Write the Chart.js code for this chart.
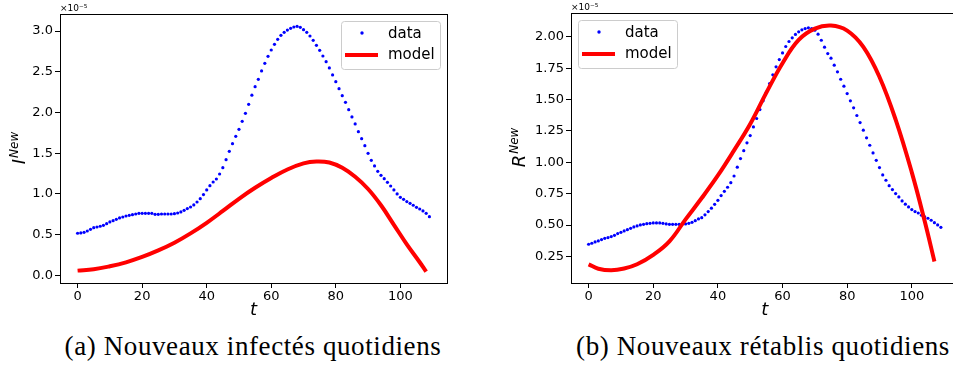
<!DOCTYPE html>
<html>
<head>
<meta charset="utf-8">
<script src="https://cdn.jsdelivr.net/npm/chart.js@4.4.1/dist/chart.umd.min.js"></script>
<style>
  html, body { margin: 0; padding: 0; background: #fff; }
  body { width: 953px; height: 365px; overflow: hidden; position: relative; }
  .panel { position: absolute; top: 0; }
  .caption {
    position: absolute; top: 331px; width: 420px;
    font-family: "Liberation Serif", serif; font-size: 27px; letter-spacing: 0.6px;
    color: #000; text-align: center; white-space: nowrap;
  }
</style>
</head>
<body>
<div class="panel" style="left:0"><canvas id="chartA" width="480" height="322"></canvas></div>
<div class="panel" style="left:480px"><canvas id="chartB" width="500" height="322"></canvas></div>
<div class="caption" style="left:43px">(a) Nouveaux infectés quotidiens</div>
<div class="caption" style="left:553px">(b) Nouveaux rétablis quotidiens</div>

<script>
// all values in units of 1e-5
const days = Array.from({ length: 110 }, (_, i) => i);

const dataI = [
  0.516, 0.520, 0.528, 0.544, 0.565, 0.585, 0.593, 0.602, 0.614, 0.634,
  0.655, 0.671, 0.687, 0.704, 0.716, 0.728, 0.737, 0.745, 0.753, 0.761,
  0.761, 0.761, 0.761, 0.761, 0.749, 0.749, 0.753, 0.753, 0.753, 0.753,
  0.757, 0.765, 0.778, 0.798, 0.819, 0.839, 0.864, 0.900, 0.941, 0.991,
  1.048, 1.101, 1.146, 1.183, 1.244, 1.322, 1.420, 1.523, 1.617, 1.707,
  1.793, 1.891, 1.990, 2.100, 2.213, 2.317, 2.407, 2.510, 2.604, 2.690,
  2.768, 2.837, 2.899, 2.948, 2.985, 3.013, 3.034, 3.050, 3.058, 3.046,
  3.018, 2.985, 2.940, 2.886, 2.825, 2.764, 2.694, 2.624, 2.547, 2.461,
  2.379, 2.293, 2.207, 2.125, 2.035, 1.945, 1.859, 1.764, 1.678, 1.592,
  1.498, 1.412, 1.343, 1.277, 1.228, 1.187, 1.142, 1.097, 1.048, 0.999,
  0.958, 0.933, 0.905, 0.884, 0.860, 0.835, 0.814, 0.790, 0.761, 0.720
];
const modelIt = [0, 5, 10, 15, 20, 25, 30, 35, 40, 45, 50, 55, 60, 65, 70, 74, 78, 82, 86, 90, 94, 98, 102, 106, 108];
const modelI = [0.057, 0.073, 0.110, 0.159, 0.225, 0.305, 0.400, 0.515, 0.645, 0.790, 0.940, 1.075, 1.195,
  1.300, 1.375, 1.398, 1.385, 1.320, 1.210, 1.060, 0.860, 0.620, 0.380, 0.160, 0.045];

const dataR = [
  0.347, 0.355, 0.365, 0.373, 0.384, 0.394, 0.400, 0.408, 0.418, 0.432,
  0.442, 0.453, 0.463, 0.474, 0.485, 0.493, 0.501, 0.506, 0.511, 0.514,
  0.517, 0.517, 0.517, 0.514, 0.509, 0.506, 0.506, 0.506, 0.506, 0.509,
  0.509, 0.514, 0.522, 0.535, 0.549, 0.559, 0.581, 0.607, 0.634, 0.665,
  0.697, 0.735, 0.769, 0.801, 0.838, 0.891, 0.961, 1.030, 1.093, 1.155,
  1.213, 1.282, 1.349, 1.420, 1.490, 1.559, 1.628, 1.697, 1.761, 1.819,
  1.872, 1.923, 1.963, 1.992, 2.019, 2.040, 2.056, 2.066, 2.072, 2.066,
  2.053, 2.021, 1.973, 1.918, 1.867, 1.830, 1.774, 1.721, 1.662, 1.607,
  1.548, 1.490, 1.434, 1.373, 1.317, 1.256, 1.195, 1.136, 1.075, 1.016,
  0.958, 0.899, 0.857, 0.814, 0.783, 0.751, 0.724, 0.692, 0.666, 0.644,
  0.623, 0.607, 0.596, 0.578, 0.565, 0.554, 0.538, 0.519, 0.501, 0.482
];
const modelRt = [0, 3, 7, 11, 15, 20, 25, 30, 35, 40, 45, 50, 55, 60, 65, 70, 75, 80, 85, 90, 95, 100, 104, 107];
const modelR = [0.187, 0.152, 0.139, 0.153, 0.187, 0.262, 0.370, 0.545, 0.715, 0.895, 1.095, 1.305, 1.555,
  1.790, 1.975, 2.065, 2.090, 2.050, 1.920, 1.680, 1.340, 0.920, 0.530, 0.210];

const xTicks = [0, 20, 40, 60, 80, 100];
const yTicksI = [0, 0.5, 1.0, 1.5, 2.0, 2.5, 3.0];
const yTicksR = [0.25, 0.5, 0.75, 1.0, 1.25, 1.5, 1.75, 2.0];

const FONT = '"DejaVu Sans", sans-serif';

// frame, offset text, y label with superscript, and the legend box
const decorations = {
  id: 'decorations',
  afterDraw(chart, args, opts) {
    const { ctx, chartArea: a } = chart;
    ctx.save();
    ctx.strokeStyle = '#000';
    ctx.lineWidth = 1;
    ctx.strokeRect(Math.round(a.left) + 0.5, Math.round(a.top) + 0.5,
      Math.round(a.right - a.left), Math.round(a.bottom - a.top));

    ctx.fillStyle = '#000';
    ctx.font = '9px ' + FONT;
    ctx.textBaseline = 'alphabetic';
    ctx.fillText('×10⁻⁵', a.left, a.top - 3);

    // legend
    const lw = 99, lh = 48;
    const lx = opts.legendLeft ? a.left + 7 : a.right - 7 - lw;
    const ly = a.top + 7;
    ctx.beginPath();
    ctx.roundRect(lx + 0.5, ly + 0.5, lw, lh, 3);
    ctx.fillStyle = 'rgba(255,255,255,0.8)';
    ctx.fill();
    ctx.strokeStyle = '#cccccc';
    ctx.stroke();
    ctx.fillStyle = '#0000ff';
    ctx.beginPath();
    ctx.arc(lx + 21, ly + 12, 1.7, 0, Math.PI * 2);
    ctx.fill();
    ctx.strokeStyle = '#ff0000';
    ctx.lineWidth = 4;
    ctx.beginPath();
    ctx.moveTo(lx + 4, ly + 34);
    ctx.lineTo(lx + 37, ly + 34);
    ctx.stroke();
    ctx.fillStyle = '#000';
    ctx.font = '15px ' + FONT;
    ctx.textBaseline = 'middle';
    ctx.fillText('data', lx + 47, ly + 13);
    ctx.fillText('model', lx + 47, ly + 34);

    // y axis label, rotated
    ctx.textBaseline = 'alphabetic';
    ctx.translate(opts.labelX, (a.top + a.bottom) / 2);
    ctx.rotate(-Math.PI / 2);
    ctx.font = 'italic 18px ' + FONT;
    const w1 = ctx.measureText(opts.letter).width;
    ctx.font = 'italic 12px ' + FONT;
    const w2 = ctx.measureText('New').width;
    const x0 = -(w1 + w2) / 2;
    ctx.font = 'italic 18px ' + FONT;
    ctx.fillText(opts.letter, x0, 0);
    ctx.font = 'italic 12px ' + FONT;
    ctx.fillText('New', x0 + w1 + 1, -7);
    ctx.restore();
  }
};

function makeChart(id, cfg) {
  const tickFont = { family: FONT, size: 13 };
  return new Chart(document.getElementById(id), {
    data: {
      datasets: [
        {
          type: 'line',
          label: 'model',
          data: cfg.modelT.map((t, i) => ({ x: t, y: cfg.model[i] })),
          borderColor: '#ff0000',
          borderWidth: 4,
          pointRadius: 0,
          tension: 0.4,
          order: 0
        },
        {
          type: 'scatter',
          label: 'data',
          data: days.map((t, i) => ({ x: t, y: cfg.data[i] })),
          backgroundColor: '#0000ff',
          pointRadius: 1.6,
          pointBorderWidth: 0,
          order: 1
        }
      ]
    },
    options: {
      responsive: false,
      animation: false,
      devicePixelRatio: 1,
      layout: { padding: cfg.padding },
      plugins: {
        legend: { display: false },
        tooltip: { enabled: false },
        decorations: { legendLeft: cfg.legendLeft, labelX: cfg.labelX, letter: cfg.letter }
      },
      scales: {
        x: {
          type: 'linear',
          min: -5.45,
          max: 114.45,
          afterBuildTicks: s => { s.ticks = xTicks.map(v => ({ value: v })); },
          afterFit: s => { s.height = 39; },
          grid: { drawOnChartArea: false, drawTicks: true, tickLength: 5, color: '#000' },
          border: { display: false },
          ticks: { color: '#000', font: tickFont, padding: 1, maxRotation: 0, autoSkip: false },
          title: {
            display: true, text: 't', color: '#000', padding: { top: 0, bottom: 1 },
            font: { family: FONT, size: 18, style: 'italic' }
          }
        },
        y: {
          type: 'linear',
          min: cfg.yMin,
          max: cfg.yMax,
          afterBuildTicks: s => { s.ticks = cfg.yTicks.map(v => ({ value: v })); },
          afterFit: s => { s.width = cfg.yWidth; },
          grid: { drawOnChartArea: false, drawTicks: true, tickLength: 5, color: '#000' },
          border: { display: false },
          ticks: {
            color: '#000', font: tickFont, padding: 2, autoSkip: false,
            callback: v => v.toFixed(cfg.decimals)
          }
        }
      }
    },
    plugins: [decorations]
  });
}

makeChart('chartA', {
  data: dataI, modelT: modelIt, model: modelI,
  yMin: -0.095, yMax: 3.21, yTicks: yTicksI, decimals: 1,
  yWidth: 60, padding: { top: 14, right: 33, left: 0, bottom: 0 },
  legendLeft: false, labelX: 25, letter: 'I'
});

makeChart('chartB', {
  data: dataR, modelT: modelRt, model: modelR,
  yMin: 0.038, yMax: 2.19, yTicks: yTicksR, decimals: 2,
  yWidth: 91, padding: { top: 13, right: 21.5, left: 0, bottom: 0 },
  legendLeft: true, labelX: 45, letter: 'R'
});
</script>
</body>
</html>
